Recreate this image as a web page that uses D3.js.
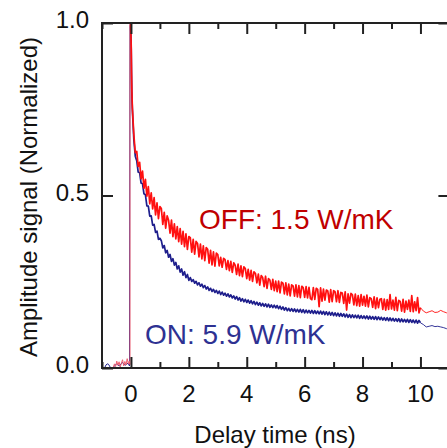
<!DOCTYPE html>
<html><head><meta charset="utf-8">
<script src="https://cdn.jsdelivr.net/npm/d3@7"></script>
<style>html,body{margin:0;padding:0;background:#fff;} svg{display:block;}</style>
</head><body><svg id="c" width="447" height="448"></svg>
<script>
// ---------- data ----------
const xTicksMajor = [0, 2, 4, 6, 8, 10];
const xTicksMinor = [-1, 1, 3, 5, 7, 9];
const yTicks = [0.0, 0.5, 1.0];
const yTickLabels = ["0.0", "0.5", "1.0"];
const xLabel = "Delay time (ns)";
const yLabel = "Amplitude signal (Normalized)";
const offLabel = "OFF: 1.5 W/mK";
const onLabel = "ON: 5.9 W/mK";

// uniform sampling grid of the recorded traces (ns)
const sampleStart = 0.05;
const sampleStep = 0.05;

// OFF trace (red): pre-zero noise and rise to the peak
const offHeadTime = [-0.62,-0.57,-0.53,-0.49,-0.45,-0.41,-0.37,-0.33,-0.29,-0.25,-0.21,-0.17,-0.13,-0.09,-0.06,-0.033,-0.033,-0.01];
const offHeadSignal = [0.0,0.012,0.004,0.020,0.008,0.018,0.003,0.014,0.024,0.006,0.019,0.009,0.027,0.012,0.020,0.010,0.995,1.0];
// OFF decay right after the peak
const offEarlyTime = [-0.01,0.01,0.02,0.03,0.04];
const offEarlySignal = [1.0,0.93,0.86,0.81,0.78];
// OFF trace, t = 0.05 ... 10.00 ns
const offSignal = [
 .752,.676,.624,.628,.584,.596,.548,.571,.521,.547,.498,.526,.476,.508,.461,.494,.444,.479,.433,.468,
 .462,.416,.451,.405,.441,.428,.391,.429,.381,.418,.374,.410,.366,.404,.359,.396,.352,.389,.344,.381,
 .378,.336,.373,.330,.367,.361,.322,.359,.316,.354,.311,.349,.344,.304,.341,.299,.337,.295,.333,.329,
 .296,.321,.292,.318,.314,.286,.311,.282,.309,.277,.305,.298,.271,.301,.268,.296,.265,.293,.288,.259,
 .286,.255,.283,.251,.279,.274,.247,.272,.240,.268,.262,.236,.266,.231,.259,.255,.228,.257,.224,.252,
 .221,.252,.218,.249,.246,.215,.247,.212,.243,.209,.241,.238,.208,.241,.206,.239,.204,.237,.233,.205,
 .236,.203,.234,.201,.198,.233,.199,.231,.228,.178,.232,.194,.229,.197,.226,.223,.191,.227,.192,.224,
 .221,.192,.224,.190,.219,.217,.187,.221,.168,.215,.188,.216,.212,.183,.214,.181,.210,.179,.213,.182,
 .208,.179,.211,.177,.204,.201,.176,.206,.172,.203,.175,.199,.201,.170,.200,.168,.198,.170,.213,.171,
 .197,.168,.205,.166,.196,.193,.165,.199,.162,.194,.170,.197,.164,.210,.163,.192,.166,.204,.160,.175
];
const offTailTime = [10.1,10.2,10.3,10.4,10.5,10.6,10.7,10.8,10.9,11.0];
const offTailSignal = [.165,.160,.163,.166,.161,.162,.167,.163,.160,.165];

// ON trace (blue)
const onHeadTime = [-1.0,-0.95,-0.9,-0.86,-0.82,-0.78,-0.74,-0.7,-0.65,-0.6,-0.5,-0.4,-0.3,-0.2,-0.1,-0.05,-0.033,-0.01];
const onHeadSignal = [0.0,-0.003,0.002,0.009,0.012,0.011,0.006,0.0,-0.004,0.003,0.012,0.006,0.016,0.008,0.014,0.006,0.99,1.0];
const onEarlyTime = [-0.01,0.01,0.02,0.03,0.04];
const onEarlySignal = [1.0,0.92,0.85,0.80,0.77];
const onSignal = [
 .748,.661,.614,.601,.568,.566,.536,.534,.505,.502,.470,.469,.440,.441,.414,.416,.393,.397,.373,.376,
 .369,.348,.355,.334,.341,.321,.329,.309,.317,.298,.306,.287,.296,.278,.287,.269,.279,.262,.271,.254,
 .262,.251,.256,.246,.251,.241,.247,.237,.243,.233,.239,.229,.235,.225,.231,.222,.228,.219,.225,.216,
 .223,.213,.220,.211,.217,.208,.215,.206,.212,.203,.209,.200,.207,.197,.204,.194,.201,.192,.199,.190,
 .197,.188,.195,.186,.193,.184,.191,.182,.189,.180,.187,.179,.186,.177,.185,.176,.183,.175,.182,.174,
 .181,.172,.179,.170,.177,.168,.175,.166,.173,.165,.172,.164,.171,.163,.170,.162,.170,.161,.169,.160,
 .168,.160,.167,.159,.167,.158,.166,.158,.165,.157,.165,.156,.164,.155,.163,.154,.162,.153,.161,.152,
 .160,.151,.159,.150,.158,.150,.157,.148,.156,.147,.155,.146,.154,.146,.153,.145,.153,.144,.152,.144,
 .151,.143,.151,.142,.150,.142,.149,.141,.149,.140,.148,.140,.147,.139,.146,.138,.146,.137,.145,.137,
 .144,.136,.143,.135,.143,.134,.142,.134,.141,.133,.141,.132,.140,.132,.139,.131,.139,.130,.138,.131
];
const onTailTime = [10.1,10.2,10.3,10.4,10.5,10.6,10.7,10.8,10.9,11.0];
const onTailSignal = [.126,.119,.121,.123,.120,.121,.119,.117,.114,.120];

// ---------- build series ----------
function pairs(ts, vs) { return ts.map((t, i) => [t, vs[i]]); }
function decaySeries(earlyT, earlyV, mainV) {
  const pts = pairs(earlyT, earlyV);
  mainV.forEach((v, i) => pts.push([+(sampleStart + i * sampleStep).toFixed(3), v]));
  return pts;
}
const offHead = pairs(offHeadTime, offHeadSignal);
const offBody = decaySeries(offEarlyTime, offEarlySignal, offSignal);
const offTail = [[10.0, offSignal[offSignal.length - 1]]].concat(pairs(offTailTime, offTailSignal));
const onHead = pairs(onHeadTime, onHeadSignal);
const onBody = decaySeries(onEarlyTime, onEarlySignal, onSignal);
const onTail = [[10.0, onSignal[onSignal.length - 1]]].concat(pairs(onTailTime, onTailSignal));

// ---------- layout ----------
const L = 102, T = 23, R = 449.4, B = 368;
const x = d3.scaleLinear().domain([-1, 11]).range([L, R]);
const y = d3.scaleLinear().domain([0, 1]).range([B, T]);
const svg = d3.select("#c");
const font = "'Liberation Sans', Arial, sans-serif";
const axisColor = "#222";

svg.append("defs").append("clipPath").attr("id", "clip")
  .append("rect").attr("x", L).attr("y", T).attr("width", R - L).attr("height", B - T);

const line = d3.line().x(d => x(d[0])).y(d => y(d[1]));
const g = svg.append("g").attr("clip-path", "url(#clip)");
function draw(data, color, w) {
  g.append("path").datum(data).attr("d", line)
    .attr("fill", "none").attr("stroke", color).attr("stroke-width", w).attr("stroke-linejoin", "round");
}
const blue = "#1e1e8c", red = "#ff1010";
draw(onHead, blue, 1);
draw(onBody, blue, 1.7);
draw(onTail, blue, 0.9);
draw(offHead, "#f06070", 1);
draw(offBody, red, 1.7);
draw(offTail, red, 0.9);

// frame
svg.append("rect").attr("x", L).attr("y", T).attr("width", R - L).attr("height", B - T)
  .attr("fill", "none").attr("stroke", axisColor).attr("stroke-width", 2);

// axes via d3 axis generators (inward ticks)
const fmtNone = () => "";
function styleAxis(sel) {
  sel.select(".domain").remove();
  sel.selectAll(".tick line").attr("stroke", axisColor).attr("stroke-width", 2);
}
svg.append("g").attr("transform", `translate(0,${B})`)
  .call(d3.axisBottom(x).tickValues(xTicksMajor).tickSize(-11).tickFormat(fmtNone)).call(styleAxis);
svg.append("g").attr("transform", `translate(0,${B})`)
  .call(d3.axisBottom(x).tickValues(xTicksMinor).tickSize(-6).tickFormat(fmtNone)).call(styleAxis);
svg.append("g").attr("transform", `translate(0,${T})`)
  .call(d3.axisTop(x).tickValues(xTicksMajor).tickSize(-11).tickFormat(fmtNone)).call(styleAxis);
svg.append("g").attr("transform", `translate(0,${T})`)
  .call(d3.axisTop(x).tickValues(xTicksMinor).tickSize(-6).tickFormat(fmtNone)).call(styleAxis);
svg.append("g").attr("transform", `translate(${L},0)`)
  .call(d3.axisLeft(y).tickValues(yTicks).tickSize(-11).tickFormat(fmtNone)).call(styleAxis);
svg.append("g").attr("transform", `translate(${R},0)`)
  .call(d3.axisRight(y).tickValues(yTicks).tickSize(-11).tickFormat(fmtNone)).call(styleAxis);

// tick labels
svg.append("g").selectAll("text").data(xTicksMajor).join("text")
  .attr("x", d => x(d)).attr("y", 402).attr("text-anchor", "middle")
  .attr("font-family", font).attr("font-size", 24).attr("fill", "#111").text(d => d);
svg.append("g").selectAll("text").data(yTicks).join("text")
  .attr("x", 89).attr("y", d => y(d) + 5).attr("text-anchor", "end")
  .attr("font-family", font).attr("font-size", 24).attr("fill", "#111").text((d, i) => yTickLabels[i]);

// axis titles
svg.append("text").attr("x", 275).attr("y", 443).attr("text-anchor", "middle")
  .attr("font-family", font).attr("font-size", 24).attr("fill", "#111").text(xLabel);
svg.append("text").attr("transform", "translate(37,197) rotate(-90)").attr("text-anchor", "middle")
  .attr("font-family", font).attr("font-size", 24).attr("fill", "#111").text(yLabel);

// annotations
svg.append("text").attr("x", 199).attr("y", 228.5)
  .attr("font-family", font).attr("font-size", 28).attr("fill", "#c00000").text(offLabel);
svg.append("text").attr("x", 145).attr("y", 343.5)
  .attr("font-family", font).attr("font-size", 28).attr("fill", "#2e3192").text(onLabel);
</script>
</body></html>
